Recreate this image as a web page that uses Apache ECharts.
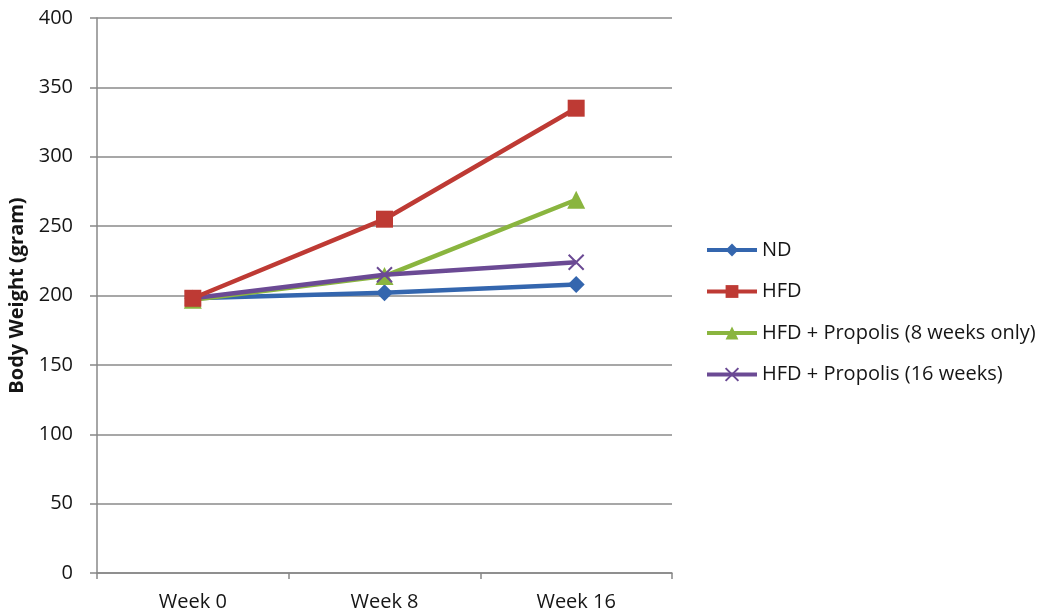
<!DOCTYPE html>
<html><head><meta charset="utf-8">
<script src="https://cdn.jsdelivr.net/npm/echarts@6/dist/echarts.min.js"></script>
<style>html,body{margin:0;padding:0;background:#fff}#c{width:1047px;height:616px}</style>
</head><body><div id="c"></div>
<script>
const categories = ['Week 0', 'Week 8', 'Week 16'];
const yTicks = [0, 50, 100, 150, 200, 250, 300, 350, 400];
const seriesNames = ['ND', 'HFD', 'HFD + Propolis (8 weeks only)', 'HFD + Propolis (16 weeks)'];
const ndValues = [198, 202, 208];
const hfdValues = [198, 255, 335];
const prop8Values = [197, 214, 269];
const prop16Values = [198, 215, 224];

const colors = ['#3466AE', '#BE3A34', '#8AB53F', '#6B4A94'];
const symbols = ['diamond', 'rect', 'triangle', 'path://M0,0L10,10M10,0L0,10'];
const sizes = [17, 17, 18, 15];
const dataSets = [ndValues, hfdValues, prop8Values, prop16Values];

const chart = echarts.init(document.getElementById('c'), null, {renderer: 'canvas'});
const font = 'Open Sans, Liberation Sans, sans-serif';
chart.setOption({
  animation: false,
  grid: {left: 97, right: 375, top: 18, bottom: 43, containLabel: false, outerBoundsMode: 'none'},
  legend: {
    orient: 'vertical', left: 700, top: 235, itemGap: 21.5,
    itemWidth: 50, itemHeight: 16,
    lineStyle: {width: 4},
    textStyle: {fontSize: 20, color: '#151515', fontFamily: font},
    data: seriesNames
  },
  xAxis: {
    type: 'category', data: categories, boundaryGap: true,
    axisLine: {lineStyle: {color: '#888', width: 1.5}},
    axisTick: {show: true, length: 6, lineStyle: {color: '#888', width: 1.5}},
    axisLabel: {fontSize: 20, color: '#151515', margin: 19, fontFamily: font}
  },
  yAxis: {
    type: 'value', min: yTicks[0], max: yTicks[yTicks.length - 1], interval: 50,
    name: 'Body Weight (gram)', nameLocation: 'middle', nameGap: 68,
    nameTextStyle: {fontSize: 20, fontWeight: 'bold', color: '#151515', fontFamily: font},
    axisLine: {show: true, lineStyle: {color: '#888', width: 1.5}},
    axisTick: {show: true, length: 7, lineStyle: {color: '#888', width: 1.5}},
    axisLabel: {fontSize: 20, color: '#151515', margin: 24, fontFamily: font},
    splitLine: {lineStyle: {color: '#8a8a8a', width: 1.5}}
  },
  series: seriesNames.map((n, i) => ({
    name: n, type: 'line', data: dataSets[i],
    symbol: symbols[i], symbolSize: sizes[i], showAllSymbol: true,
    lineStyle: {color: colors[i], width: 4.5},
    itemStyle: i === 3 ? {color: 'rgba(0,0,0,0)', borderColor: colors[i], borderWidth: 2} : {color: colors[i]},
    color: colors[i],
    z: [2, 5, 3, 4][i]
  }))
});
</script></body></html>
